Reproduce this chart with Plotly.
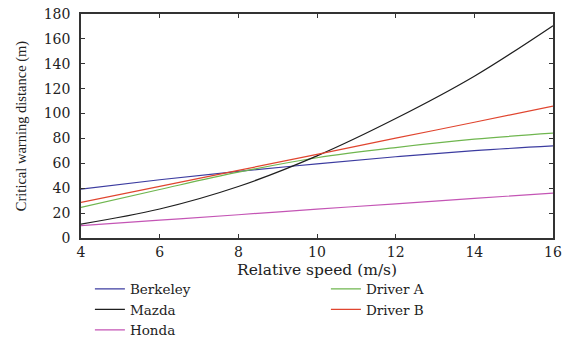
import plotly.graph_objects as go

speed = [4, 6, 8, 10, 12, 14, 16]
berkeley = [39.3, 46.8, 53.5, 59.6, 65.3, 70.2, 74.0]
mazda = [11.2, 23.3, 41.4, 66.0, 96.0, 130.0, 170.6]
honda = [9.9, 14.3, 18.7, 23.2, 27.5, 31.8, 36.1]
driver_a = [24.6, 39.0, 52.9, 64.5, 72.7, 79.4, 84.2]
driver_b = [28.6, 41.5, 54.3, 67.2, 80.2, 93.0, 106.0]

series = [
    ("Berkeley", berkeley, "#3c3ca0"),
    ("Driver A", driver_a, "#6fb64f"),
    ("Mazda", mazda, "#1e1e1e"),
    ("Driver B", driver_b, "#e0452f"),
    ("Honda", honda, "#c455b5"),
]

fig = go.Figure()
for name, vals, col in series:
    fig.add_trace(go.Scatter(x=speed, y=vals, mode="lines", name=name,
                             line=dict(color=col, width=1.2, shape="spline")))

axis_common = dict(showline=True, linecolor="#333333", linewidth=1.5, mirror="ticks",
                   ticks="inside", ticklen=4, tickcolor="#333333", tickwidth=1.2,
                   showgrid=False, zeroline=False, automargin=False,
                   tickfont=dict(family="DejaVu Serif", size=14, color="#222222"))

fig.update_layout(
    width=569, height=339,
    margin=dict(l=81, r=16, t=14, b=101),
    plot_bgcolor="white", paper_bgcolor="white",
    xaxis=dict(range=[4, 16], tickvals=[4, 6, 8, 10, 12, 14, 16], ticklabelstandoff=0,
               **axis_common),
    yaxis=dict(range=[0, 180], tickvals=list(range(0, 181, 20)), ticklabelstandoff=6,
               title=dict(text="Critical warning distance (m)", standoff=14,
                          font=dict(family="Liberation Serif", size=14.5, color="#222222")),
               **axis_common),
    legend=dict(orientation="h", xref="container", x=0.158, xanchor="left",
                yref="container", y=0.193, yanchor="top",
                entrywidth=191, entrywidthmode="pixels",
                font=dict(family="DejaVu Serif", size=13.5, color="#222222"),
                bgcolor="rgba(0,0,0,0)"),
    annotations=[dict(text="Relative speed (m/s)", xref="paper", yref="paper",
                      x=0.5, y=-0.141, xanchor="center", yanchor="middle",
                      showarrow=False,
                      font=dict(family="DejaVu Serif", size=15.5, color="#222222"))],
)

fig.write_html("out.html", config={"displayModeBar": False},
               post_script="document.body.style.margin='0';")
